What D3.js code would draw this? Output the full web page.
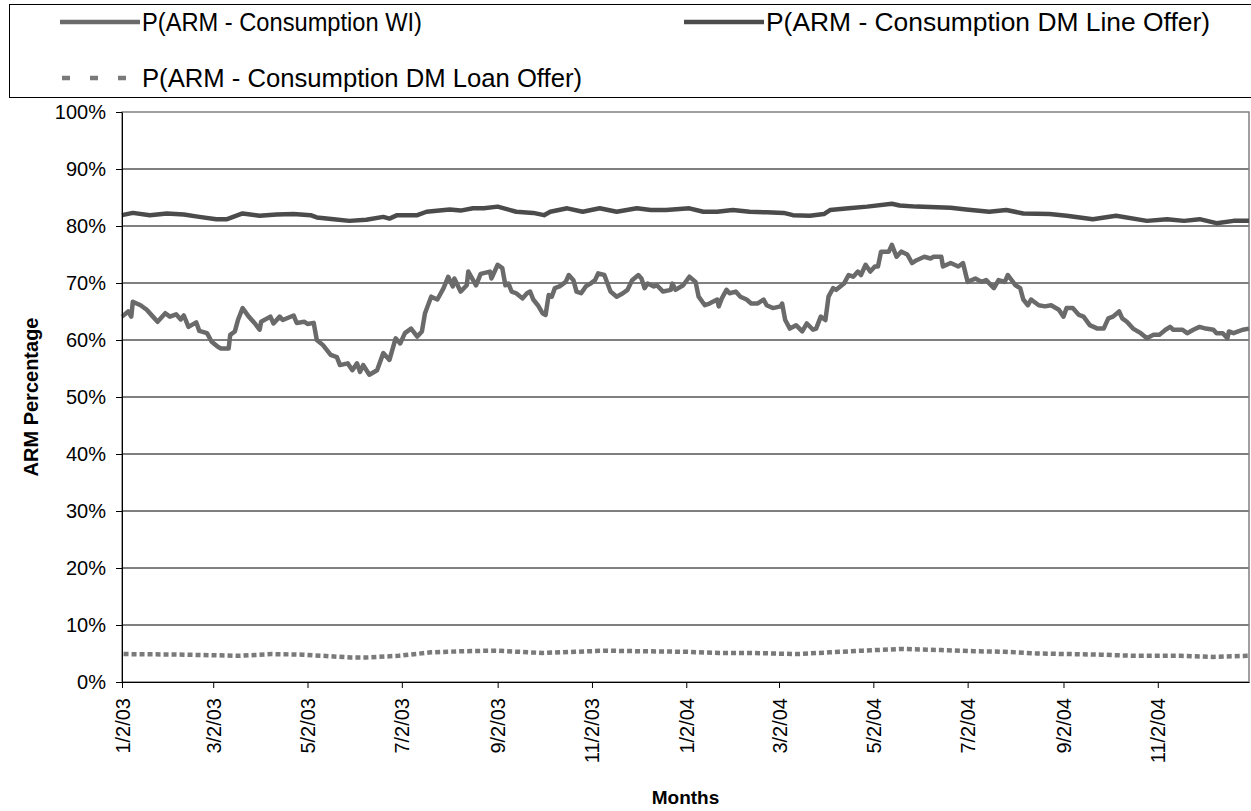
<!DOCTYPE html>
<html>
<head>
<meta charset="utf-8">
<script src="https://cdn.jsdelivr.net/npm/d3@7"></script>
<style>
  body { margin: 0; background: #fff; }
  svg { display: block; }
  text { font-family: "Liberation Sans", Arial, sans-serif; fill: #000; }
</style>
</head>
<body>
<script>
// ARM percentage by day
const wiSeries = [
  ["2003-01-02", 64.1], ["2003-01-06", 65.0], ["2003-01-08", 64.1], ["2003-01-09", 66.7],
  ["2003-01-14", 66.1], ["2003-01-18", 65.3], ["2003-01-22", 64.1], ["2003-01-25", 63.2],
  ["2003-01-30", 64.7], ["2003-02-02", 64.1], ["2003-02-06", 64.5], ["2003-02-09", 63.6],
  ["2003-02-11", 64.3], ["2003-02-14", 62.3], ["2003-02-19", 63.1], ["2003-02-21", 61.6],
  ["2003-02-26", 61.2], ["2003-03-01", 59.7], ["2003-03-05", 58.8], ["2003-03-07", 58.5],
  ["2003-03-12", 58.5], ["2003-03-13", 60.9], ["2003-03-16", 61.5], ["2003-03-18", 63.5],
  ["2003-03-21", 65.6], ["2003-03-25", 64.1], ["2003-03-29", 62.9], ["2003-04-01", 61.8],
  ["2003-04-02", 63.2], ["2003-04-08", 64.1], ["2003-04-10", 62.9], ["2003-04-14", 64.1],
  ["2003-04-16", 63.5], ["2003-04-23", 64.3], ["2003-04-25", 63.0], ["2003-04-30", 63.2],
  ["2003-05-02", 62.8], ["2003-05-06", 63.0], ["2003-05-08", 60.0], ["2003-05-12", 59.1],
  ["2003-05-17", 57.4], ["2003-05-21", 57.0], ["2003-05-23", 55.6], ["2003-05-28", 55.9],
  ["2003-05-31", 54.7], ["2003-06-03", 55.9], ["2003-06-05", 54.4], ["2003-06-07", 55.6],
  ["2003-06-11", 53.9], ["2003-06-16", 54.7], ["2003-06-20", 57.7], ["2003-06-24", 56.5],
  ["2003-06-28", 60.3], ["2003-07-01", 59.4], ["2003-07-04", 61.2], ["2003-07-08", 62.0],
  ["2003-07-12", 60.6], ["2003-07-15", 61.5], ["2003-07-17", 64.7], ["2003-07-21", 67.6],
  ["2003-07-25", 67.1], ["2003-07-29", 69.1], ["2003-08-01", 71.1], ["2003-08-04", 69.4],
  ["2003-08-05", 70.8], ["2003-08-09", 68.5], ["2003-08-13", 69.6], ["2003-08-14", 72.0],
  ["2003-08-19", 69.6], ["2003-08-22", 71.6], ["2003-08-28", 72.0], ["2003-08-29", 70.8],
  ["2003-09-02", 73.2], ["2003-09-05", 72.6], ["2003-09-07", 69.6], ["2003-09-09", 69.9],
  ["2003-09-11", 68.5], ["2003-09-14", 68.2], ["2003-09-18", 67.3], ["2003-09-21", 68.2],
  ["2003-09-23", 68.5], ["2003-09-25", 67.1], ["2003-09-28", 66.1], ["2003-10-01", 64.7],
  ["2003-10-03", 64.4], ["2003-10-05", 67.9], ["2003-10-07", 67.6], ["2003-10-09", 69.1],
  ["2003-10-12", 69.4], ["2003-10-16", 70.2], ["2003-10-18", 71.4], ["2003-10-21", 70.5],
  ["2003-10-23", 68.5], ["2003-10-26", 68.2], ["2003-10-29", 69.4], ["2003-11-01", 69.9],
  ["2003-11-04", 70.5], ["2003-11-06", 71.7], ["2003-11-10", 71.4], ["2003-11-14", 68.5],
  ["2003-11-18", 67.6], ["2003-11-22", 68.2], ["2003-11-25", 68.8], ["2003-11-28", 70.5],
  ["2003-12-02", 71.4], ["2003-12-04", 70.8], ["2003-12-06", 69.1], ["2003-12-08", 69.9],
  ["2003-12-12", 69.4], ["2003-12-14", 69.6], ["2003-12-18", 68.5], ["2003-12-23", 68.8],
  ["2003-12-24", 69.9], ["2003-12-26", 68.8], ["2003-12-31", 69.6], ["2004-01-04", 71.1],
  ["2004-01-08", 70.2], ["2004-01-10", 67.6], ["2004-01-14", 66.1], ["2004-01-17", 66.4],
  ["2004-01-22", 67.1], ["2004-01-23", 65.9], ["2004-01-25", 67.3], ["2004-01-28", 68.8],
  ["2004-01-30", 68.2], ["2004-02-03", 68.5], ["2004-02-06", 67.6], ["2004-02-10", 67.1],
  ["2004-02-13", 66.4], ["2004-02-17", 66.4], ["2004-02-21", 67.1], ["2004-02-23", 66.1],
  ["2004-02-27", 65.6], ["2004-03-03", 65.9], ["2004-03-04", 66.4], ["2004-03-06", 63.5],
  ["2004-03-09", 62.0], ["2004-03-13", 62.6], ["2004-03-17", 61.5], ["2004-03-20", 62.9],
  ["2004-03-24", 61.8], ["2004-03-26", 62.0], ["2004-03-29", 64.1], ["2004-04-01", 63.5],
  ["2004-04-03", 67.6], ["2004-04-06", 69.1], ["2004-04-08", 68.8], ["2004-04-13", 69.9],
  ["2004-04-16", 71.4], ["2004-04-19", 71.1], ["2004-04-22", 72.0], ["2004-04-24", 71.4],
  ["2004-04-27", 73.2], ["2004-04-30", 72.0], ["2004-05-03", 72.9], ["2004-05-05", 72.9],
  ["2004-05-07", 75.5], ["2004-05-12", 75.5], ["2004-05-14", 76.7], ["2004-05-17", 74.6],
  ["2004-05-20", 75.5], ["2004-05-24", 75.0], ["2004-05-27", 73.5], ["2004-05-30", 74.0],
  ["2004-06-04", 74.6], ["2004-06-08", 74.3], ["2004-06-10", 74.6], ["2004-06-15", 74.6],
  ["2004-06-16", 72.9], ["2004-06-21", 73.5], ["2004-06-26", 72.9], ["2004-06-29", 73.5],
  ["2004-07-02", 70.2], ["2004-07-07", 70.8], ["2004-07-11", 70.2], ["2004-07-14", 70.5],
  ["2004-07-19", 69.1], ["2004-07-22", 70.5], ["2004-07-26", 70.2], ["2004-07-28", 71.4],
  ["2004-08-02", 69.6], ["2004-08-05", 69.1], ["2004-08-07", 67.1], ["2004-08-10", 66.1],
  ["2004-08-12", 67.1], ["2004-08-17", 66.1], ["2004-08-21", 65.9], ["2004-08-25", 66.1],
  ["2004-08-30", 65.3], ["2004-09-02", 64.1], ["2004-09-04", 65.6], ["2004-09-08", 65.6],
  ["2004-09-12", 64.4], ["2004-09-15", 64.1], ["2004-09-19", 62.6], ["2004-09-24", 62.0],
  ["2004-09-28", 62.0], ["2004-10-01", 63.8], ["2004-10-04", 64.1], ["2004-10-08", 65.0],
  ["2004-10-10", 63.8], ["2004-10-13", 63.2], ["2004-10-17", 62.0], ["2004-10-22", 61.2],
  ["2004-10-26", 60.3], ["2004-10-30", 60.9], ["2004-11-03", 60.9], ["2004-11-07", 61.8],
  ["2004-11-10", 62.3], ["2004-11-12", 61.8], ["2004-11-18", 61.8], ["2004-11-21", 61.2],
  ["2004-11-25", 61.8], ["2004-11-29", 62.3], ["2004-12-03", 62.0], ["2004-12-08", 61.8],
  ["2004-12-10", 61.2], ["2004-12-14", 61.2], ["2004-12-17", 60.3], ["2004-12-18", 61.5],
  ["2004-12-21", 61.2], ["2004-12-24", 61.5], ["2004-12-27", 61.8], ["2004-12-31", 62.0]
];

const lineOfferSeries = [
  ["2003-01-02", 81.9], ["2003-01-09", 82.3], ["2003-01-20", 81.9], ["2003-01-31", 82.2],
  ["2003-02-11", 82.0], ["2003-02-21", 81.6], ["2003-03-04", 81.2], ["2003-03-11", 81.2],
  ["2003-03-21", 82.2], ["2003-04-01", 81.8], ["2003-04-12", 82.0], ["2003-04-23", 82.1],
  ["2003-05-04", 81.9], ["2003-05-08", 81.5], ["2003-05-19", 81.2], ["2003-05-29", 80.9],
  ["2003-06-09", 81.1], ["2003-06-20", 81.6], ["2003-06-24", 81.3], ["2003-06-29", 81.9],
  ["2003-07-12", 81.9], ["2003-07-18", 82.5], ["2003-08-02", 82.9], ["2003-08-09", 82.7],
  ["2003-08-17", 83.1], ["2003-08-24", 83.1], ["2003-09-02", 83.4], ["2003-09-14", 82.5],
  ["2003-09-25", 82.3], ["2003-10-02", 81.9], ["2003-10-06", 82.5], ["2003-10-17", 83.1],
  ["2003-10-27", 82.5], ["2003-11-07", 83.1], ["2003-11-18", 82.5], ["2003-12-01", 83.1],
  ["2003-12-10", 82.8], ["2003-12-20", 82.8], ["2004-01-04", 83.1], ["2004-01-13", 82.5],
  ["2004-01-22", 82.5], ["2004-02-01", 82.8], ["2004-02-12", 82.5], ["2004-02-23", 82.4],
  ["2004-03-05", 82.3], ["2004-03-11", 81.9], ["2004-03-22", 81.8], ["2004-03-31", 82.1],
  ["2004-04-04", 82.8], ["2004-04-16", 83.1], ["2004-04-28", 83.4], ["2004-05-14", 83.9],
  ["2004-05-19", 83.6], ["2004-05-30", 83.4], ["2004-06-21", 83.2], ["2004-07-01", 82.9],
  ["2004-07-16", 82.5], ["2004-07-27", 82.8], ["2004-08-07", 82.2], ["2004-08-24", 82.1],
  ["2004-09-04", 81.8], ["2004-09-21", 81.2], ["2004-10-06", 81.8], ["2004-10-26", 80.9],
  ["2004-11-08", 81.2], ["2004-11-19", 80.9], ["2004-11-29", 81.2], ["2004-12-10", 80.5],
  ["2004-12-21", 80.9], ["2004-12-31", 80.9]
];

const loanOfferSeries = [
  ["2003-01-03", 4.9], ["2003-02-11", 4.8], ["2003-03-19", 4.6], ["2003-04-09", 4.9],
  ["2003-04-29", 4.8], ["2003-05-30", 4.3], ["2003-06-09", 4.3], ["2003-06-30", 4.6],
  ["2003-07-21", 5.2], ["2003-08-10", 5.4], ["2003-08-31", 5.5], ["2003-10-01", 5.1],
  ["2003-10-22", 5.3], ["2003-11-11", 5.5], ["2003-12-02", 5.4], ["2004-01-02", 5.3],
  ["2004-01-23", 5.1], ["2004-02-12", 5.1], ["2004-03-14", 4.9], ["2004-04-04", 5.2],
  ["2004-04-25", 5.5], ["2004-05-20", 5.8], ["2004-06-15", 5.6], ["2004-07-06", 5.4],
  ["2004-07-26", 5.3], ["2004-08-16", 5.0], ["2004-09-06", 4.9], ["2004-09-26", 4.8],
  ["2004-10-17", 4.6], ["2004-11-17", 4.6], ["2004-12-08", 4.4], ["2004-12-31", 4.6]
];

const xTickDates = ["2003-01-02", "2003-03-02", "2003-05-02", "2003-07-02", "2003-09-02",
  "2003-11-02", "2004-01-02", "2004-03-02", "2004-05-02", "2004-07-02", "2004-09-02", "2004-11-02"];
const yTicks = [0, 10, 20, 30, 40, 50, 60, 70, 80, 90, 100];
const xDomain = ["2003-01-02", "2004-12-31"];

const legendLabels = [
  "P(ARM - Consumption WI)",
  "P(ARM - Consumption DM Line Offer)",
  "P(ARM - Consumption DM Loan Offer)"
];

const W = 1251, H = 811;
const plot = { left: 122, right: 1249, top: 112, bottom: 682 };
const parse = d3.timeParse("%Y-%m-%d");

const svg = d3.select("body").append("svg")
    .attr("width", W)
    .attr("height", H);

const x = d3.scaleTime()
    .domain(xDomain.map(parse))
    .range([plot.left, plot.right]);
const y = d3.scaleLinear()
    .domain([0, 100])
    .range([plot.bottom, plot.top]);

// gridlines
svg.append("g")
    .selectAll("line")
    .data(yTicks.filter((d) => d > 0 && d < 100))
    .join("line")
    .attr("x1", plot.left)
    .attr("x2", plot.right)
    .attr("y1", (d) => y(d))
    .attr("y2", (d) => y(d))
    .attr("stroke", "#000")
    .attr("stroke-width", 1);

// plot area border (top and right are grey)
svg.append("rect")
    .attr("x", plot.left)
    .attr("y", plot.top)
    .attr("width", plot.right - plot.left)
    .attr("height", plot.bottom - plot.top)
    .attr("fill", "none")
    .attr("stroke", "#808080")
    .attr("stroke-width", 1.5);

const series = [
  { data: wiSeries, color: "#6a6a6a", dash: null },
  { data: lineOfferSeries, color: "#4b4b4b", dash: null },
  { data: loanOfferSeries, color: "#7a7a7a", dash: "5,3" }
];

const line = d3.line()
    .x((d) => x(parse(d[0])))
    .y((d) => y(d[1]));

svg.append("g")
    .selectAll("path")
    .data(series)
    .join("path")
    .attr("d", (d) => line(d.data))
    .attr("fill", "none")
    .attr("stroke", (d) => d.color)
    .attr("stroke-width", 4.5)
    .attr("stroke-linejoin", "round")
    .attr("stroke-dasharray", (d) => d.dash);

// axes
const yAxis = d3.axisLeft(y)
    .tickValues(yTicks)
    .tickFormat((d) => d + "%")
    .tickSize(6)
    .tickPadding(10)
    .tickSizeOuter(0);
const gy = svg.append("g")
    .attr("transform", `translate(${plot.left},0)`)
    .call(yAxis);
gy.selectAll("text").style("font-size", "20px");

const xAxis = d3.axisBottom(x)
    .tickValues(xTickDates.map(parse))
    .tickFormat(d3.timeFormat("%-m/%-d/%y"))
    .tickSize(6)
    .tickSizeOuter(0);
const gx = svg.append("g")
    .attr("transform", `translate(0,${plot.bottom})`)
    .call(xAxis);
gx.selectAll("text")
    .style("font-size", "20px")
    .attr("transform", "rotate(-90)")
    .attr("text-anchor", "end")
    .attr("x", -16)
    .attr("y", 0)
    .attr("dy", "0.35em");

svg.selectAll(".domain, .tick line").attr("stroke", "#000");

// axis titles
svg.append("text")
    .attr("transform", `translate(38,${(plot.top + plot.bottom) / 2}) rotate(-90)`)
    .attr("text-anchor", "middle")
    .style("font-size", "20px")
    .style("font-weight", "bold")
    .text("ARM Percentage");

svg.append("text")
    .attr("x", (plot.left + plot.right) / 2)
    .attr("y", 804)
    .attr("text-anchor", "middle")
    .style("font-size", "19px")
    .style("font-weight", "bold")
    .text("Months");

// legend
svg.append("rect")
    .attr("x", 9.5)
    .attr("y", 4.5)
    .attr("width", 1260)
    .attr("height", 93)
    .attr("fill", "#fff")
    .attr("stroke", "#000")
    .attr("stroke-width", 1);

const legendPos = [[60, 22], [684, 22], [60, 78]];
const legendWidths = [280, 444, 440];
const lg = svg.append("g")
    .selectAll("g")
    .data(series)
    .join("g")
    .attr("transform", (d, i) => `translate(${legendPos[i][0]},${legendPos[i][1]})`);

lg.append("line")
    .attr("x1", (d) => (d.dash ? 2 : 0))
    .attr("x2", 80)
    .attr("stroke", (d) => d.color)
    .attr("stroke-width", 4.5)
    .attr("stroke-dasharray", (d) => (d.dash ? "8,20" : null));

lg.append("text")
    .attr("x", 82)
    .attr("dy", "0.35em")
    .style("font-size", "25px")
    .attr("textLength", (d, i) => legendWidths[i])
    .attr("lengthAdjust", "spacingAndGlyphs")
    .text((d, i) => legendLabels[i]);
</script>
</body>
</html>
